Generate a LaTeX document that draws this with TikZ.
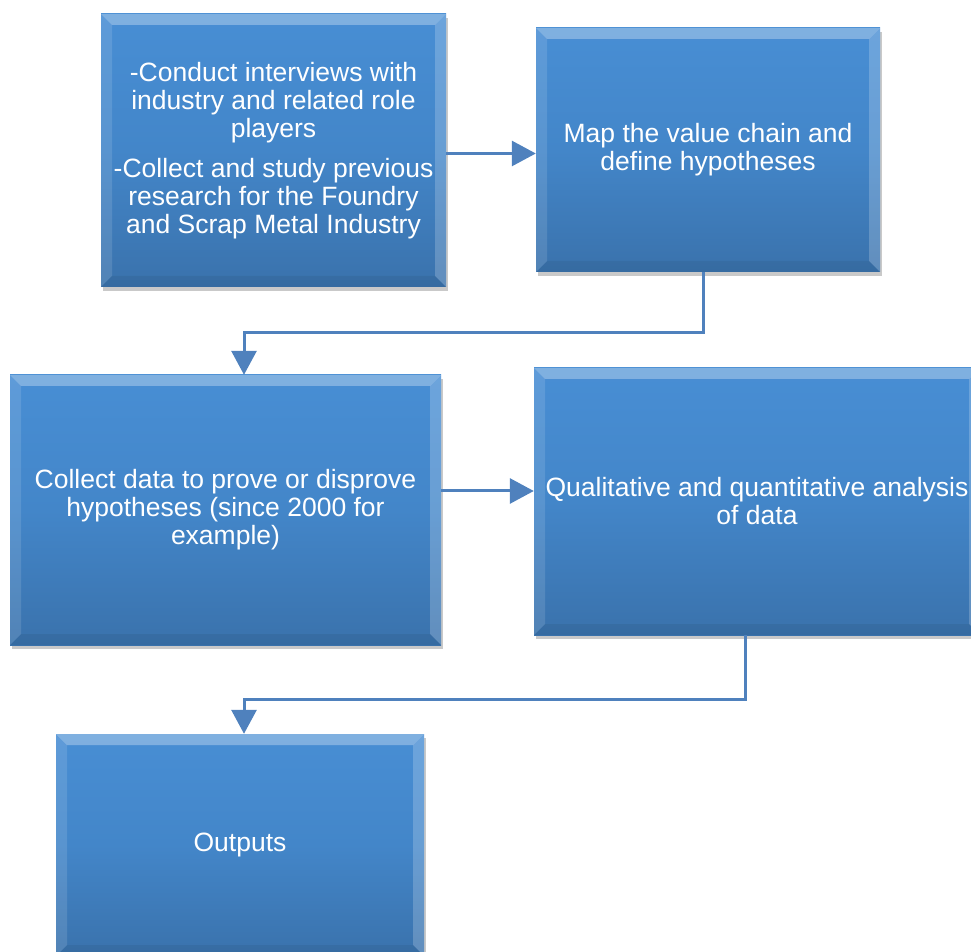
\documentclass[tikz,border=0pt]{standalone}
\usepackage{fontspec}
\setmainfont{Liberation Sans}
\usetikzlibrary{arrows.meta,shadows}

\definecolor{boxtop}{RGB}{72,142,212}
\definecolor{boxmid}{RGB}{67,134,201}
\definecolor{boxbot}{RGB}{58,114,172}
\definecolor{linkblue}{RGB}{79,129,189}

\tikzset{
	stepblock/.style={draw=none,top color=boxtop,bottom color=boxbot,middle color=boxmid,
		text=white,align=center,inner sep=0pt,font=\fontsize{26.5}{28}\selectfont,
		drop shadow={shadow xshift=2pt,shadow yshift=-4pt,opacity=0.3,fill=black!70},
		path picture={
			\fill[white,opacity=0.3] (path picture bounding box.north west) -- (path picture bounding box.north east) -- ([shift={(-11pt,-11pt)}]path picture bounding box.north east) -- ([shift={(11pt,-11pt)}]path picture bounding box.north west) -- cycle;
			\fill[white,opacity=0.12] (path picture bounding box.north west) -- ([shift={(11pt,-11pt)}]path picture bounding box.north west) -- ([shift={(11pt,11pt)}]path picture bounding box.south west) -- (path picture bounding box.south west) -- cycle;
			\fill[white,opacity=0.2] (path picture bounding box.north east) -- ([shift={(-11pt,-11pt)}]path picture bounding box.north east) -- ([shift={(-11pt,11pt)}]path picture bounding box.south east) -- (path picture bounding box.south east) -- cycle;
			\fill[black,opacity=0.06] (path picture bounding box.south west) -- ([shift={(11pt,11pt)}]path picture bounding box.south west) -- ([shift={(-11pt,11pt)}]path picture bounding box.south east) -- (path picture bounding box.south east) -- cycle;
		}},
	link/.style={draw=linkblue,line width=3pt,-{Triangle[length=24pt,width=25pt]}},
}

\begin{document}
\begin{tikzpicture}[x=1pt,y=1pt]

	\useasboundingbox (0,0) rectangle (971,951);

	% blocks
	\node[stepblock,minimum width=345pt,minimum height=273pt] (interviews) at (273.5,800.5) {-Conduct interviews with\\industry and related role\\players\\[12pt]-Collect and study previous\\research for the Foundry\\and Scrap Metal Industry}; % research block
	\node[stepblock,minimum width=344pt,minimum height=244pt] (valuechain) at (708,801) {Map the value chain and\\define hypotheses}; % value chain block
	\node[stepblock,minimum width=431pt,minimum height=270pt] (collect) at (225.5,441) {Collect data to prove or disprove\\hypotheses (since 2000 for\\example)}; % data block
	\node[stepblock,minimum width=446pt,minimum height=267pt] (analysis) at (757,449.5) {Qualitative and quantitative analysis\\of data}; % analysis block
	\node[stepblock,minimum width=368pt,minimum height=222pt] (outputs) at (240,106) {Outputs}; % outputs block

	%Links
	\draw[link] ([yshift=-3pt]interviews.east) -- ([yshift=-3pt]interviews.east -| valuechain.west); % research to value chain
	\draw[link] ([xshift=-5pt]valuechain.south) -- ++(0,-60) -| ([xshift=18.5pt]collect.north); % value chain to data
	\draw[link] ([yshift=19pt]collect.east) -- ([yshift=19pt]collect.east -| analysis.west); % data to analysis
	\draw[link] ([xshift=-12pt]analysis.south) -- ++(0,-64) -| ([xshift=4pt]outputs.north); % analysis to outputs

\end{tikzpicture}
\end{document}
